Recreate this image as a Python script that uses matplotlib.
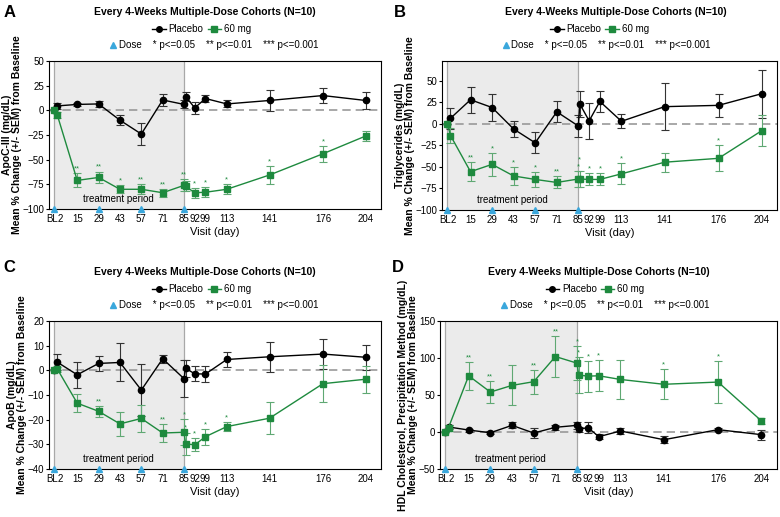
import matplotlib
matplotlib.use("Agg")
import matplotlib.pyplot as plt
from matplotlib.lines import Line2D
from matplotlib.transforms import ScaledTranslation, blended_transform_factory
import numpy as np

plt.rcParams['font.family'] = ['Liberation Sans', 'DejaVu Sans']

# visit days (BL = 0, second 85 point = post-dose sample)
days = [0, 2, 15, 29, 43, 57, 71, 85, 86, 92, 99, 113, 141, 176, 204]
tick_days = [0, 2, 15, 29, 43, 57, 71, 85, 92, 99, 113, 141, 176, 204]
tick_labels = ["BL", "2", "15", "29", "43", "57", "71", "85", "92", "99", "113", "141", "176", "204"]
dose_days = [0, 29, 57, 85]

# A: ApoC-III
apoc_pbo = [0, 4.5, 6, 6.5, -10, -24, 10.5, 6, 14, 2.5, 12, 6.5, 10, 15, 10]
apoc_pbo_sem = [0, 3, 1.5, 3, 5, 11.5, 6, 4, 5, 6, 4, 3.5, 11, 8, 8.5]
apoc_60 = [0, -5, -71, -68, -80, -80, -83.5, -76, -77, -83.5, -83, -80, -65.5, -44, -26]
apoc_60_sem = [0, 3, 7, 6, 4, 5, 4, 6, 5, 5, 5, 5, 9, 8, 5]
apoc_stars = ["", "", "**", "**", "*", "**", "**", "**", "*", "*", "*", "*", "*", "*", ""]

# B: Triglycerides
tg_pbo = [0, 6.5, 28, 19, -6, -22, 14, -2.5, 23, 3.5, 26, 3, 20, 21.5, 35]
tg_pbo_sem = [0, 12, 15, 16, 9, 12, 12, 13, 15, 21, 12, 8, 27, 13.5, 28]
tg_60 = [0, -13.5, -55.5, -47, -60.5, -64.5, -68, -64, -64, -64.5, -64.5, -58, -44.5, -40, -8]
tg_60_sem = [0, 9, 11, 13, 10, 9, 7, 9, 9, 7, 7, 12, 11, 15, 18]
tg_stars = ["", "", "**", "*", "*", "*", "**", "*", "*", "*", "*", "*", "", "*", ""]

# C: ApoB
apob_pbo = [0, 3.3, -1.8, 2.8, 3.2, -8, 4.7, -3.4, 0.8, -1.4, -1.5, 4.4, 5.5, 6.6, 5.3]
apob_pbo_sem = [0, 3.3, 5.2, 3, 7.7, 10.5, 1.7, 7.5, 3.5, 3, 3.3, 3, 6, 6, 5]
apob_60 = [0, 0.5, -13.3, -16.6, -21.7, -19.5, -25.4, -25.1, -29.8, -30.2, -26.9, -22.8, -19.4, -5.4, -3.6]
apob_60_sem = [0, 1, 3.7, 2.3, 5, 5.6, 3.8, 5.2, 4.6, 2.6, 3.2, 1.7, 6.4, 7.5, 5.5]
apob_stars = ["", "", "", "**", "", "", "**", "*", "*", "*", "*", "*", "", "", ""]

# D: HDL cholesterol
hdl_pbo = [0, 6.8, 2.7, -1, 9, -1.4, 6.4, 9, 3.7, 6, -6.3, 1.4, -10.4, 3.2, -3.6]
hdl_pbo_sem = [0, 3, 2, 2, 4, 7, 3, 5, 3, 7, 3, 4, 5, 2, 7]
hdl_60 = [0, 6, 76, 54, 63, 68, 102, 93, 77, 75.5, 76, 71, 64.5, 67.5, 15]
hdl_60_sem = [0, 4, 19, 15, 27, 16, 28, 23, 24, 21, 21, 26, 20, 28, 4]
hdl_stars = ["", "", "**", "**", "", "**", "**", "*", "*", "*", "*", "", "*", "*", ""]

GREEN = "#1e8a3e"
GREEN_ERR = "#5fa873"
BLUE = "#3aa7dc"
TITLE = "Every 4-Weeks Multiple-Dose Cohorts (N=10)"

panels = [
    dict(letter="A", rect=[0.0628, 0.5957, 0.4256, 0.2863], ylim=(-100, 50), yt=np.arange(-100, 51, 25),
         ylabel="ApoC-III (mg/dL)\nMean % Change (+/- SEM) from Baseline",
         pbo=apoc_pbo, pbo_sem=apoc_pbo_sem, drug=apoc_60, drug_sem=apoc_60_sem, stars=apoc_stars,
         tx=0.47, lx=0.46, dx=0.193, letter_xy=(0.004, 0.99)),
    dict(letter="B", rect=[0.5667, 0.5938, 0.4295, 0.2882], ylim=(-100, 73), yt=np.arange(-100, 51, 25),
         ylabel="Triglycerides (mg/dL)\nMean % Change (+/- SEM) from Baseline",
         pbo=tg_pbo, pbo_sem=tg_pbo_sem, drug=tg_60, drug_sem=tg_60_sem, stars=tg_stars,
         tx=0.52, lx=0.47, dx=0.19, letter_xy=(0.505, 0.99)),
    dict(letter="C", rect=[0.0628, 0.0928, 0.4256, 0.2863], ylim=(-40, 20), yt=np.arange(-40, 21, 10),
         ylabel="ApoB (mg/dL)\nMean % Change (+/- SEM) from Baseline",
         pbo=apob_pbo, pbo_sem=apob_pbo_sem, drug=apob_60, drug_sem=apob_60_sem, stars=apob_stars,
         tx=0.47, lx=0.46, dx=0.193, letter_xy=(0.004, 0.497)),
    dict(letter="D", rect=[0.5641, 0.0928, 0.432, 0.2863], ylim=(-50, 150), yt=np.arange(-50, 151, 50),
         ylabel="HDL Cholesterol, Precipitation Method (mg/dL)\nMean % Change (+/- SEM) from Baseline",
         pbo=hdl_pbo, pbo_sem=hdl_pbo_sem, drug=hdl_60, drug_sem=hdl_60_sem, stars=hdl_stars,
         tx=0.47, lx=0.46, dx=0.19, letter_xy=(0.503, 0.497)),
]

fig = plt.figure(figsize=(7.8, 5.17), dpi=100)

for p in panels:
    ax = fig.add_axes(p["rect"])
    ax.set_xlim(-3.5, 214)
    ax.set_ylim(*p["ylim"])
    yspan = p["ylim"][1] - p["ylim"][0]

    # treatment period shading
    ax.axvspan(0, 85, color="#ebebeb", zorder=0, lw=0)
    ax.axvline(0, color="#a8a8a8", lw=0.9, zorder=1)
    ax.axvline(85, color="#a8a8a8", lw=0.9, zorder=1)
    ax.axhline(0, color="#999999", lw=1.2, ls=(0, (5, 3)), zorder=1)
    ax.text(42, p["ylim"][0] + 0.065 * yspan, "treatment period",
            ha="center", va="center", fontsize=7)

    ax.errorbar(days, p["pbo"], yerr=p["pbo_sem"], color="black", ecolor="#333333",
                marker="o", ms=4.5, lw=1, elinewidth=0.8, capsize=3, capthick=0.8, zorder=3)
    ax.errorbar(days, p["drug"], yerr=p["drug_sem"], color=GREEN, ecolor=GREEN_ERR,
                marker="s", ms=4.5, lw=1, elinewidth=0.8, capsize=3, capthick=0.8, zorder=4)

    # significance stars above the upper error bar; stack the two day-85 samples
    tops = [m + e for m, e in zip(p["drug"], p["drug_sem"])]
    for i, (d, s) in enumerate(zip(days, p["stars"])):
        if not s:
            continue
        dy = 0.5
        if d == 86 and p["stars"][i - 1] and abs(tops[i] - tops[i - 1]) < 0.05 * yspan:
            dy = 5.5 if tops[i] >= tops[i - 1] else -4.5
        ax.annotate(s, (d, tops[i]), xytext=(0, dy), textcoords="offset points",
                    ha="center", va="bottom", fontsize=5.5, color=GREEN)

    # dose triangles on the x axis
    trans = blended_transform_factory(ax.transData, ax.transAxes)
    ax.plot(dose_days, [0] * len(dose_days), ls="none", marker="^", ms=4.5, color=BLUE,
            transform=trans, clip_on=False, zorder=6)

    ax.set_xticks(tick_days)
    ax.set_xticklabels(tick_labels)
    ax.set_yticks(p["yt"])
    ax.tick_params(axis="x", length=0, labelsize=7, pad=3.5)
    ax.tick_params(axis="y", length=2.5, width=0.8, labelsize=7, pad=1)
    labs = ax.get_xticklabels()
    labs[0].set_transform(labs[0].get_transform() + ScaledTranslation(-2 / 100, 0, fig.dpi_scale_trans))
    labs[1].set_transform(labs[1].get_transform() + ScaledTranslation(3 / 100, 0, fig.dpi_scale_trans))
    for sp in ax.spines.values():
        sp.set_linewidth(0.8)

    ax.set_xlabel("Visit (day)", fontsize=8, labelpad=2.5)
    ax.set_ylabel(p["ylabel"], fontsize=7.5, fontweight="bold", labelpad=0.5, linespacing=1.0)

    ax.text(p["tx"], 1.33, TITLE, transform=ax.transAxes, ha="center", va="center",
            fontsize=7.5, fontweight="bold")
    handles = [Line2D([], [], color="black", marker="o", ms=4, lw=1),
               Line2D([], [], color=GREEN, marker="s", ms=4, lw=1)]
    ax.legend(handles, ["Placebo", "60 mg"], loc="center", bbox_to_anchor=(p["lx"], 1.215),
              ncol=2, frameon=False, fontsize=7, handlelength=1.4, handletextpad=0.3,
              columnspacing=0.4, borderpad=0, borderaxespad=0)
    ax.plot([p["dx"]], [1.105], transform=ax.transAxes, marker="^", ms=4, color=BLUE, clip_on=False)
    ax.text(p["dx"] + 0.017, 1.105, "Dose    * p<=0.05    ** p<=0.01    *** p<=0.001",
            transform=ax.transAxes, ha="left", va="center", fontsize=7)

    fig.text(p["letter_xy"][0], p["letter_xy"][1], p["letter"], fontsize=12, fontweight="bold",
             ha="left", va="top")

fig.savefig("out.png", dpi=100)
